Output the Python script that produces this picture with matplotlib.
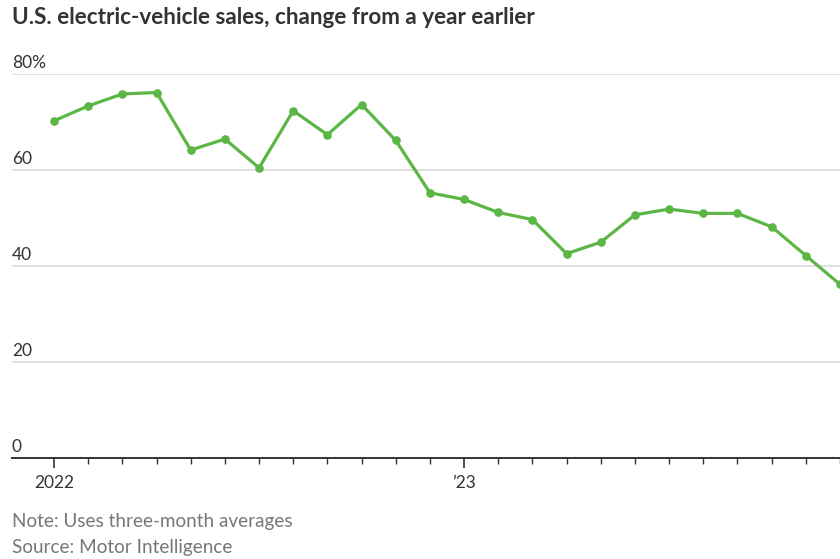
import numpy as np
import matplotlib.pyplot as plt
from matplotlib.ticker import FixedLocator

plt.rcParams['font.family'] = ['Lato', 'DejaVu Sans']

# monthly year-over-year change, Jan 2022 .. Dec 2023 (three-month averages)
months = ['Jan 22', 'Feb 22', 'Mar 22', 'Apr 22', 'May 22', 'Jun 22',
          'Jul 22', 'Aug 22', 'Sep 22', 'Oct 22', 'Nov 22', 'Dec 22',
          'Jan 23', 'Feb 23', 'Mar 23', 'Apr 23', 'May 23', 'Jun 23',
          'Jul 23', 'Aug 23', 'Sep 23', 'Oct 23', 'Nov 23', 'Dec 23']
change = [70.3, 73.4, 75.9, 76.2, 64.2, 66.5, 60.5, 72.4, 67.4, 73.7, 66.2, 55.3,
          53.9, 51.2, 49.7, 42.6, 45.0, 50.7, 51.9, 51.0, 51.0, 48.2, 42.2, 36.2]

y_ticks = [0, 20, 40, 60, 80]
y_labels = ['0', '20', '40', '60', '80%']
year_ticks = [0, 12]
year_labels = ['2022', '\u201923']

green = '#5cb646'
text_dark = '#333333'
text_grey = '#777777'

fig = plt.figure(figsize=(8.4, 5.59), dpi=100)
W, H = 840, 559
ax = fig.add_axes([12 / W, 1 - 458 / H, (840 - 12) / W, (458 - 74.3) / H])

x = np.arange(len(months))
ax.plot(x, change, color=green, lw=2.3, marker='o', ms=5.2,
        solid_joinstyle='round', clip_on=False, zorder=3)

ax.set_xlim(-1.23, 23.0)
ax.set_ylim(0, 80)

# light horizontal grid, labels sit above each line at the left
for v, lab in zip(y_ticks, y_labels):
    if v > 0:
        ax.axhline(v, color='#dddddd', lw=1.3, zorder=1)
    ax.text(-1.23, v + 0.7, lab, ha='left', va='bottom', fontsize=12.5,
            color=text_dark)
ax.set_yticks([])

for s in ['top', 'right', 'left']:
    ax.spines[s].set_visible(False)
ax.spines['bottom'].set_color(text_dark)
ax.spines['bottom'].set_linewidth(1.4)

ax.set_xticks(year_ticks)
ax.set_xticklabels(year_labels, fontsize=12.5, color=text_dark)
ax.xaxis.set_minor_locator(FixedLocator([i for i in x if i not in year_ticks]))
ax.tick_params(axis='x', which='major', length=7, width=1.2, color=text_dark, pad=5)
ax.tick_params(axis='x', which='minor', length=4, width=1.0, color=text_dark)

fig.text(12 / W, 1 - 18 / H, 'U.S. electric-vehicle sales, change from a year earlier',
         ha='left', va='center', fontsize=16.2, fontweight='bold', color=text_dark)
fig.text(12 / W, 1 - 521 / H, 'Note: Uses three-month averages',
         ha='left', va='center', fontsize=13.6, color=text_grey)
fig.text(12 / W, 1 - 548 / H, 'Source: Motor Intelligence',
         ha='left', va='center', fontsize=13.6, color=text_grey)

fig.savefig('out.png', dpi=100)
